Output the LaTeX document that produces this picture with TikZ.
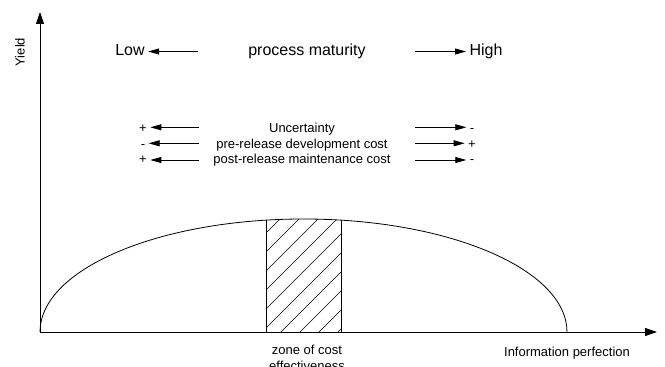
\documentclass[tikz,border=0pt]{standalone}
\usepackage{fontspec}
\setmainfont{Liberation Sans}
\usetikzlibrary{arrows.meta,positioning}

\begin{document}
\begin{tikzpicture}[x=1pt,y=1pt,
    arr/.style={-{Triangle[length=11pt,width=6pt]}, line width=0.8pt},
    axis/.style={-{Triangle[length=12pt,width=8pt]}, line width=0.8pt},
    big/.style={font=\fontsize{16}{19}\selectfont},
    lbl/.style={font=\fontsize{13}{15}\selectfont}]
    \useasboundingbox (0,0) rectangle (665,367);

    % Axes
    \coordinate (O) at (40,35);
    \coordinate (ytip) at (40,355);
    \coordinate (xtip) at (657,35);
    \draw[axis] (O) -- (ytip);
    \draw[axis] (O) -- (xtip);
    \node[lbl, rotate=90] (yield) at (20,315) {Yield};
    \node[lbl, anchor=base] (perfection) at (567,10) {Information perfection};

    % Process maturity
    \node[big, anchor=base] (low) at (130,311) {Low};
    \node[big, anchor=base] (maturity) at (307,311) {process maturity};
    \node[big, anchor=base] (high) at (486,311) {High};
    \coordinate (lowA) at (198,315.5);
    \coordinate (highA) at (415,315.5);
    \draw[arr] (lowA) -- (lowA -| low.east);
    \draw[arr] (highA) -- (highA -| high.west);

    % Effects of maturity
    \node[lbl, anchor=base] (uncert) at (302,234) {Uncertainty};
    \node[lbl, anchor=base] (precost) at (302,218) {pre-release development cost};
    \node[lbl, anchor=base] (postcost) at (302,203) {post-release maintenance cost};
    \node[lbl, anchor=base] (uncertL) at (143,234) {+};
    \node[lbl, anchor=base] (precostL) at (143,218) {-};
    \node[lbl, anchor=base] (postcostL) at (143,203) {+};
    \node[lbl, anchor=base] (uncertR) at (472,234) {-};
    \node[lbl, anchor=base] (precostR) at (472,218) {+};
    \node[lbl, anchor=base] (postcostR) at (472,203) {-};
    \coordinate (uncertA) at (199,239.7);
    \coordinate (precostA) at (199,223.7);
    \coordinate (postcostA) at (199,207);
    \coordinate (uncertB) at (415,239.7);
    \coordinate (precostB) at (415,223.7);
    \coordinate (postcostB) at (415,207);
    \draw[arr] (uncertA) -- (uncertA -| uncertL.east);
    \draw[arr] (precostA) -- (precostA -| precostL.east);
    \draw[arr] (postcostA) -- (postcostA -| postcostL.east);
    \draw[arr] (uncertB) -- (uncertB -| uncertR.west);
    \draw[arr] (precostB) -- (precostB -| precostR.west);
    \draw[arr] (postcostB) -- (postcostB -| postcostR.west);

    % Yield curve and hatched zone
    \begin{scope}
        \clip (567,35) arc[start angle=0, end angle=180, x radius=263.5, y radius=113] -- cycle;
        \draw[line width=0.8pt] (266,35) -- (266,160) (341,35) -- (341,160);
        \clip (266,35) rectangle (341,160);
        \foreach \k in {-72,-53,...,118}
            \draw[line width=0.6pt] (266,35+\k) -- ++(75,75);
    \end{scope}
    \draw[line width=0.8pt] (O) arc[start angle=180, end angle=0, x radius=263.5, y radius=113];
    \node[lbl, align=center, anchor=north, font=\fontsize{13}{16}\selectfont] (zone) at (307,25) {zone of cost\\effectiveness};
\end{tikzpicture}
\end{document}
